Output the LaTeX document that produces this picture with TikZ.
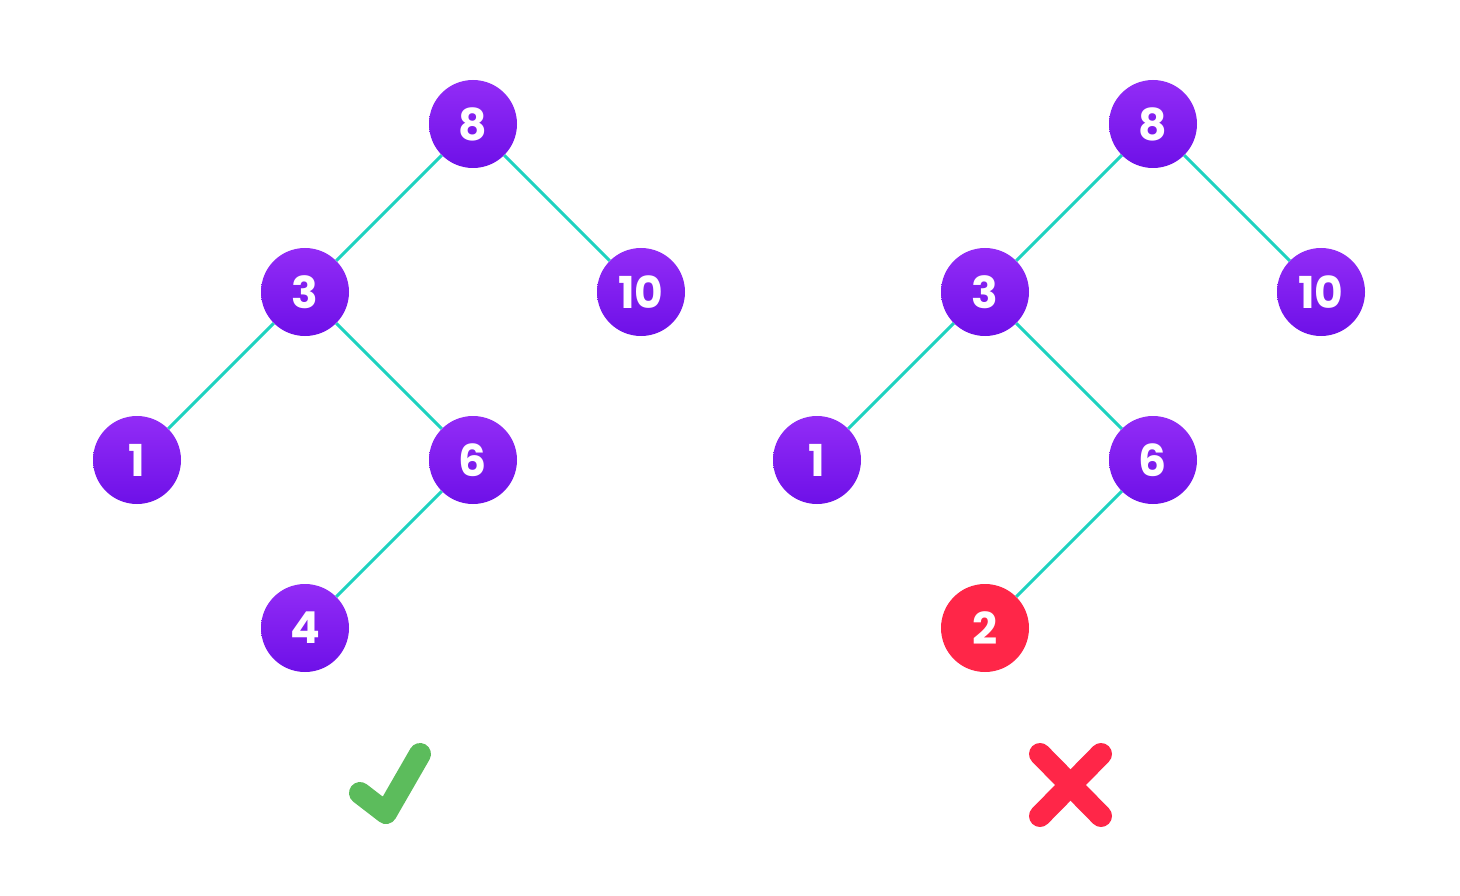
\documentclass[tikz,border=0pt]{standalone}
\usepackage{fontspec}
\setmainfont{Poppins}
\definecolor{ptop}{RGB}{146,44,246}
\definecolor{pbot}{RGB}{110,16,232}
\definecolor{edgec}{RGB}{30,210,192}
\definecolor{redc}{RGB}{255,38,72}
\definecolor{greenc}{RGB}{92,188,92}
\tikzset{
  tnode/.style={circle, minimum size=88pt, inner sep=0pt, top color=ptop, bottom color=pbot, draw=none,
    text=white, font=\fontsize{44}{44}\selectfont\bfseries},
  bad/.style={circle, minimum size=88pt, inner sep=0pt, fill=redc, draw=none,
    text=white, font=\fontsize{44}{44}\selectfont\bfseries},
  treeedge/.style={draw=edgec, line width=3pt},
  markline/.style={line width=22pt, line cap=round, line join=round}
}
\begin{document}
\begin{tikzpicture}[x=1pt,y=-1pt]
\useasboundingbox (0,0) rectangle (1460,896);
% left tree
\node[tnode] (a8) at (473,124) {8};
\node[tnode] (a3) at (305,292) {3};
\node[tnode] (a10) at (641,292) {10};
\node[tnode] (a1) at (137,460) {1};
\node[tnode] (a6) at (473,460) {6};
\node[tnode] (a4) at (305,628) {4};
% right tree
\node[tnode] (b8) at (1153,124) {8};
\node[tnode] (b3) at (985,292) {3};
\node[tnode] (b10) at (1321,292) {10};
\node[tnode] (b1) at (817,460) {1};
\node[tnode] (b6) at (1153,460) {6};
\node[bad] (b2) at (985,628) {2};
\draw[treeedge] (a8) -- (a3);
\draw[treeedge] (a8) -- (a10);
\draw[treeedge] (a3) -- (a1);
\draw[treeedge] (a3) -- (a6);
\draw[treeedge] (a6) -- (a4);
\draw[treeedge] (b8) -- (b3);
\draw[treeedge] (b8) -- (b10);
\draw[treeedge] (b3) -- (b1);
\draw[treeedge] (b3) -- (b6);
\draw[treeedge] (b6) -- (b2);
% check mark
\coordinate (c1) at (360,793);
\coordinate (c2) at (386,813);
\coordinate (c3) at (420,754);
\draw[markline, draw=greenc] (c1) -- (c2) -- (c3);
% cross
\coordinate (x1) at (1040,754);
\coordinate (x2) at (1101,816);
\coordinate (x3) at (1101,754);
\coordinate (x4) at (1040,816);
\draw[markline, draw=redc] (x1) -- (x2);
\draw[markline, draw=redc] (x3) -- (x4);
\end{tikzpicture}
\end{document}
